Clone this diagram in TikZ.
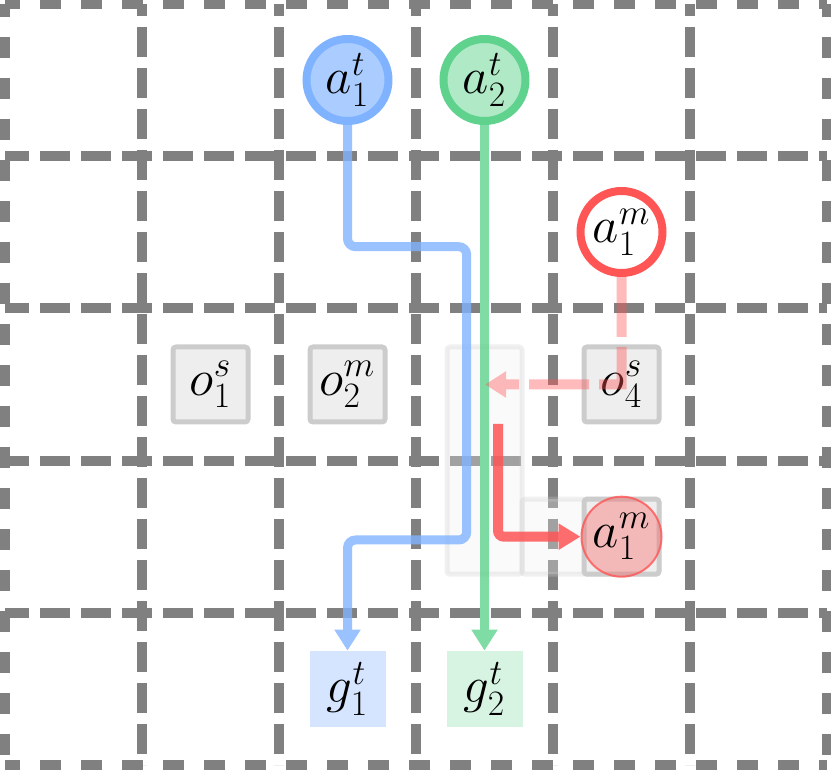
\RequirePackage{fix-cm}
\documentclass[tikz,border=0pt]{standalone}
\usetikzlibrary{arrows.meta}
\definecolor{gridc}{HTML}{808080}
\definecolor{bluebd}{HTML}{80B3FF}
\definecolor{bluefill}{HTML}{AACCFF}
\definecolor{bluegoal}{HTML}{D5E5FF}
\definecolor{greenbd}{HTML}{5FD38D}
\definecolor{greenfill}{HTML}{AFE9C6}
\definecolor{greengoal}{HTML}{D7F4E3}
\definecolor{redc}{HTML}{FF5555}
\definecolor{obsfill}{HTML}{EEEEEE}
\definecolor{obsbd}{HTML}{CCCCCC}
\tikzset{
  lab/.style={font=\fontsize{25.5}{30}\selectfont},
  agent/.style={circle, inner sep=0pt, minimum size=41pt, line width=4pt, lab},
  obst/.style={rectangle, inner sep=0pt, minimum size=37.5pt, line width=2.5pt, draw=obsbd, fill=obsfill, rounded corners=1.5pt, lab},
  goal/.style={rectangle, inner sep=0pt, minimum size=38pt, lab},
  gridline/.style={gridc, line width=5pt},
  innerdash/.style={dash pattern=on 15pt off 5.5pt},
  outerdash/.style={dash pattern=on 10.5pt off 10pt},
  route/.style={line width=4.5pt, rounded corners=4pt, -{Triangle[width=12.5pt,length=10.5pt]}},
  trail/.style={draw=obsbd, fill=obsfill, line width=2.5pt, opacity=.3, rounded corners=1.5pt},
}
\begin{document}
\begin{tikzpicture}[x=0.5pt,y=-0.5pt]
\useasboundingbox (0,0) rectangle (831,770);
% grid
\foreach \x in {142,279,416,553,690}
  \draw[gridline, innerdash, dash phase=9pt] (\x,4) -- (\x,765);
\foreach \y in {156.2,308.4,460.6,612.8}
  \draw[gridline, innerdash, dash phase=3pt] (5,\y) -- (827,\y);
\draw[gridline, outerdash, dash phase=3pt] (5,4) -- (827,4);
\draw[gridline, outerdash, dash phase=3pt] (5,765) -- (827,765);
\draw[gridline, outerdash, dash phase=4pt] (5,4) -- (5,765);
\draw[gridline, outerdash, dash phase=4pt] (827,4) -- (827,765);
% faint trail
\draw[trail] (447,347) rectangle (522,574.2);
\draw[trail] (522,499.2) rectangle (659,574.2);
% obstacles
\node[obst] (o1) at (210.5,384.5) {$o_1^s$};
\node[obst] (o2) at (347.5,384.5) {$o_2^m$};
\node[obst] (o4) at (621.5,384.5) {$o_4^s$};
\node[obst] (ob) at (621.5,536.7) {};
% goals
\node[goal, fill=bluegoal] (g1) at (347.5,689) {$g_1^t$};
\node[goal, fill=greengoal] (g2) at (484.5,689) {$g_2^t$};
% agents
\node[agent, draw=bluebd, fill=bluefill] (a1) at (347.5,80) {$a_1^t$};
\node[agent, draw=greenbd, fill=greenfill] (a2) at (484.5,80) {$a_2^t$};
\node[agent, draw=redc, fill=white] (m1) at (621.5,232) {$a_1^m$};
\node[circle, inner sep=0pt, minimum size=40pt, line width=1pt, draw=redc, draw opacity=.8, fill=redc, fill opacity=.35, text opacity=1, lab] (m1b) at (621.5,536.7) {$a_1^m$};
% routes
\coordinate (pe) at (485,384.5);
\coordinate (rs) at (498,424);
\begin{scope}[transparency group, opacity=.8]
\draw[route, bluebd] (a1.south) |- (466.7,246.7) |- (347.5,540) -- (g1.north);
\end{scope}
\begin{scope}[transparency group, opacity=.8]
\draw[route, greenbd] (a2.south) -- (g2.north);
\end{scope}
\begin{scope}[transparency group, opacity=.4]
\draw[route, line width=5pt, redc, sharp corners, dash pattern=on 30pt off 5pt] (m1.south) |- (pe);
\end{scope}
\begin{scope}[transparency group, opacity=.85]
\draw[route, line width=5pt, redc, rounded corners=3pt, -{Triangle[width=12.5pt,length=11pt]}] (rs) |- (m1b.west);
\end{scope}
\end{tikzpicture}
\end{document}
